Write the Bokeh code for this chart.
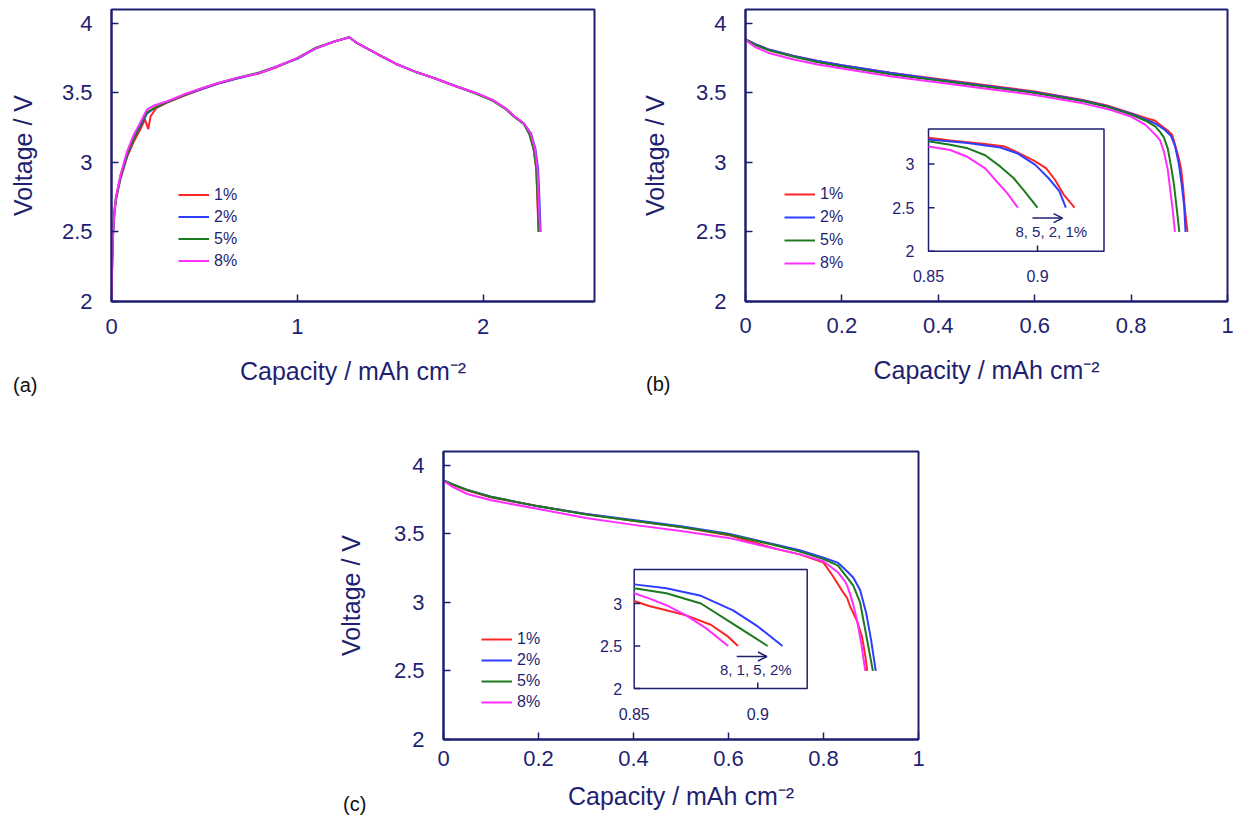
from bokeh.plotting import figure
from bokeh.layouts import column, row
from bokeh.models import (Range1d, FixedTicker, Legend, LegendItem, Arrow,
                          OpenHead, Spacer, Div)
from bokeh.core.properties import value
from bokeh.embed import file_html
from bokeh.resources import INLINE

# ---------------- data ----------------
names = ["1%", "2%", "5%", "8%"]
colors = ["#ff2424", "#2e3eff", "#1e7a1e", "#ff2eff"]

# panel (a): charge / discharge
xa_1 = [0, 0.004, 0.009, 0.016, 0.024, 0.048, 0.084, 0.12, 0.156, 0.18, 0.198, 0.21, 0.24, 0.30, 0.39, 0.48,
        0.57, 0.68, 0.79, 0.89, 1.0, 1.1, 1.2, 1.28, 1.32, 1.43, 1.53, 1.64, 1.75, 1.85, 1.96, 2.05, 2.12,
        2.17, 2.22, 2.25, 2.272, 2.286, 2.293, 2.298]
ya_1 = [2.0, 2.3, 2.5, 2.64, 2.73, 2.88, 3.04, 3.15, 3.24, 3.31, 3.24, 3.33, 3.39, 3.43, 3.48, 3.525,
        3.565, 3.605, 3.64, 3.685, 3.75, 3.82, 3.87, 3.90, 3.86, 3.78, 3.71, 3.65, 3.60, 3.55, 3.50, 3.45, 3.39,
        3.33, 3.28, 3.21, 3.10, 2.96, 2.72, 2.50]
xa_2 = [0, 0.004, 0.009, 0.016, 0.024, 0.048, 0.084, 0.12, 0.156, 0.19, 0.23, 0.30, 0.39, 0.48, 0.57, 0.68,
        0.79, 0.89, 1.0, 1.1, 1.2, 1.28, 1.32, 1.43, 1.53, 1.64, 1.75, 1.85, 1.96, 2.05, 2.12, 2.17, 2.22,
        2.258, 2.282, 2.296, 2.304, 2.31]
ya_2 = [2.0, 2.3, 2.5, 2.64, 2.74, 2.89, 3.05, 3.17, 3.26, 3.35, 3.39, 3.435, 3.485, 3.525, 3.565, 3.605,
        3.64, 3.69, 3.745, 3.82, 3.87, 3.90, 3.86, 3.78, 3.71, 3.65, 3.60, 3.55, 3.50, 3.45, 3.39, 3.33, 3.28,
        3.21, 3.10, 2.96, 2.72, 2.50]
xa_5 = [0, 0.004, 0.009, 0.016, 0.024, 0.048, 0.084, 0.12, 0.156, 0.19, 0.23, 0.30, 0.39, 0.48, 0.57, 0.68,
        0.79, 0.89, 1.0, 1.1, 1.2, 1.28, 1.32, 1.43, 1.53, 1.64, 1.75, 1.85, 1.96, 2.05, 2.12, 2.17, 2.22,
        2.25, 2.273, 2.287, 2.294, 2.30]
ya_5 = [2.0, 2.32, 2.52, 2.66, 2.75, 2.90, 3.06, 3.17, 3.27, 3.36, 3.39, 3.435, 3.485, 3.53, 3.57, 3.61,
        3.645, 3.69, 3.75, 3.825, 3.87, 3.90, 3.86, 3.78, 3.71, 3.65, 3.60, 3.55, 3.495, 3.445, 3.385, 3.325,
        3.275, 3.20, 3.09, 2.95, 2.72, 2.50]
xa_8 = [0, 0.004, 0.009, 0.016, 0.024, 0.048, 0.084, 0.12, 0.156, 0.19, 0.23, 0.30, 0.39, 0.48, 0.57, 0.68,
        0.79, 0.89, 1.0, 1.1, 1.2, 1.28, 1.32, 1.43, 1.53, 1.64, 1.75, 1.85, 1.96, 2.05, 2.12, 2.17, 2.22,
        2.256, 2.279, 2.293, 2.300, 2.307]
ya_8 = [2.0, 2.3, 2.5, 2.65, 2.75, 2.91, 3.08, 3.20, 3.29, 3.38, 3.41, 3.44, 3.49, 3.53, 3.57, 3.61,
        3.64, 3.69, 3.75, 3.82, 3.87, 3.90, 3.86, 3.78, 3.71, 3.65, 3.60, 3.55, 3.50, 3.45, 3.39, 3.33, 3.28,
        3.21, 3.10, 2.96, 2.72, 2.50]

# panel (b): discharge
xb_1 = [0, 0.02, 0.05, 0.1, 0.15, 0.2, 0.3, 0.4, 0.5, 0.6, 0.7, 0.75, 0.8, 0.83, 0.85, 0.86, 0.876, 0.885,
        0.891, 0.899, 0.904, 0.908, 0.912, 0.917]
yb_1 = [3.885, 3.85, 3.81, 3.765, 3.73, 3.70, 3.645, 3.60, 3.555, 3.51, 3.45, 3.41, 3.355, 3.32, 3.30, 3.27,
        3.23, 3.20, 3.13, 3.03, 2.95, 2.82, 2.65, 2.50]
xb_2 = [0, 0.02, 0.05, 0.1, 0.15, 0.2, 0.3, 0.4, 0.5, 0.6, 0.7, 0.75, 0.8, 0.83, 0.85, 0.868, 0.883, 0.891,
        0.899, 0.905, 0.910, 0.913]
yb_2 = [3.885, 3.85, 3.81, 3.765, 3.73, 3.70, 3.645, 3.595, 3.55, 3.505, 3.445, 3.405, 3.35, 3.31, 3.28, 3.24,
        3.19, 3.12, 2.99, 2.84, 2.69, 2.50]
xb_5 = [0, 0.02, 0.05, 0.1, 0.15, 0.2, 0.3, 0.4, 0.5, 0.6, 0.7, 0.75, 0.8, 0.83, 0.85, 0.86, 0.868, 0.876,
        0.883, 0.889, 0.894, 0.900]
yb_5 = [3.885, 3.845, 3.805, 3.76, 3.72, 3.69, 3.635, 3.59, 3.545, 3.50, 3.44, 3.40, 3.345, 3.30, 3.26, 3.22,
        3.18, 3.10, 2.97, 2.84, 2.69, 2.50]
xb_8 = [0, 0.02, 0.05, 0.1, 0.15, 0.2, 0.3, 0.4, 0.5, 0.6, 0.7, 0.75, 0.8, 0.83, 0.85, 0.86, 0.868, 0.876,
        0.882, 0.886, 0.891]
yb_8 = [3.88, 3.83, 3.785, 3.74, 3.705, 3.675, 3.62, 3.575, 3.53, 3.485, 3.425, 3.385, 3.33, 3.27, 3.20, 3.16,
        3.08, 2.95, 2.78, 2.67, 2.50]

# panel (c): discharge
xc_1 = [0, 0.02, 0.05, 0.1, 0.2, 0.3, 0.4, 0.5, 0.6, 0.7, 0.75, 0.8, 0.82, 0.84, 0.85, 0.856, 0.863, 0.871,
        0.881, 0.888, 0.892]
yc_1 = [3.89, 3.855, 3.815, 3.765, 3.70, 3.645, 3.595, 3.55, 3.49, 3.39, 3.35, 3.29, 3.19, 3.08, 3.03, 2.97,
        2.92, 2.86, 2.75, 2.61, 2.50]
xc_2 = [0, 0.02, 0.05, 0.1, 0.2, 0.3, 0.4, 0.5, 0.6, 0.7, 0.75, 0.8, 0.83, 0.85, 0.863, 0.877, 0.89, 0.90,
        0.91]
yc_2 = [3.89, 3.86, 3.82, 3.77, 3.70, 3.645, 3.60, 3.555, 3.50, 3.42, 3.38, 3.325, 3.29, 3.225, 3.18, 3.09,
        2.92, 2.73, 2.50]
xc_5 = [0, 0.02, 0.05, 0.1, 0.2, 0.3, 0.4, 0.5, 0.6, 0.7, 0.75, 0.8, 0.83, 0.85, 0.863, 0.877, 0.89, 0.897,
        0.904]
yc_5 = [3.89, 3.86, 3.82, 3.77, 3.70, 3.64, 3.595, 3.55, 3.495, 3.415, 3.37, 3.315, 3.27, 3.18, 3.12, 3.00,
        2.76, 2.63, 2.50]
xc_8 = [0, 0.02, 0.05, 0.1, 0.2, 0.3, 0.4, 0.5, 0.6, 0.7, 0.75, 0.8, 0.83, 0.845, 0.85, 0.856, 0.863, 0.871,
        0.879, 0.888]
yc_8 = [3.885, 3.84, 3.79, 3.745, 3.68, 3.615, 3.565, 3.52, 3.47, 3.39, 3.35, 3.30, 3.22, 3.155, 3.12, 3.06,
        2.98, 2.86, 2.71, 2.50]

# ticks
xticks_a = [0, 1, 2]
xlabels_a = ["0", "1", "2"]
xticks_bc = [0, 0.2, 0.4, 0.6, 0.8, 1]
xlabels_bc = ["0", "0.2", "0.4", "0.6", "0.8", "1"]
yticks = [2, 2.5, 3, 3.5, 4]
ylabels = ["2", "2.5", "3", "3.5", "4"]
inset_xticks = [0.85, 0.9]
inset_xlabels = ["0.85", "0.9"]
inset_yticks = [2, 2.5, 3]
inset_ylabels = ["2", "2.5", "3"]
inset_note_b = "8, 5, 2, 1%"
inset_note_c = "8, 1, 5, 2%"
panel_tags = ["(a)", "(b)", "(c)"]

x_title = "Capacity / mAh cm\u207b\u00b2"
y_title = "Voltage / V"

NAVY = "#1f1f72"
FONT = "Liberation Sans"


def make_fig(width, height, left, right, top, bottom, xr, yr, xticks, xlabels,
             x_ls, x_as, y_ls, y_as):
    p = figure(width=width, height=height, x_range=Range1d(*xr), y_range=Range1d(*yr),
               output_backend="svg", toolbar_location=None, tools="",
               min_border_left=left, min_border_right=right,
               min_border_top=top, min_border_bottom=bottom)
    p.grid.visible = False
    p.outline_line_color = NAVY
    p.outline_line_width = 2
    p.outline_line_alpha = 1.0
    p.xaxis.ticker = FixedTicker(ticks=xticks)
    p.xaxis.major_label_overrides = dict(zip(xticks, xlabels))
    p.yaxis.ticker = FixedTicker(ticks=yticks)
    p.yaxis.major_label_overrides = dict(zip(yticks, ylabels))
    for ax in (p.xaxis[0], p.yaxis[0]):
        ax.axis_line_color = NAVY
        ax.axis_line_width = 2
        ax.major_tick_in = 7
        ax.major_tick_out = 0
        ax.major_tick_line_color = NAVY
        ax.major_tick_line_width = 1.5
        ax.minor_tick_line_color = None
        ax.major_label_text_font = FONT
        ax.major_label_text_font_size = "22px"
        ax.major_label_text_color = NAVY
        ax.axis_label_text_font = FONT
        ax.axis_label_text_font_size = "25px"
        ax.axis_label_text_font_style = "normal"
        ax.axis_label_text_color = NAVY
    p.xaxis.major_label_standoff = x_ls
    p.xaxis.axis_label_standoff = x_as
    p.yaxis.major_label_standoff = y_ls
    p.yaxis.axis_label_standoff = y_as
    p.xaxis.axis_label = x_title
    p.yaxis.axis_label = y_title
    return p


def add_series(p, xs, ys, legend_loc, spacing, gh):
    items = []
    for x, y, c, n in zip(xs, ys, colors, names):
        r = p.line(x, y, line_color=c, line_width=2)
        items.append(LegendItem(label=n, renderers=[r]))
    leg = Legend(items=items, location=legend_loc, glyph_width=31, glyph_height=gh,
                 label_height=gh, spacing=spacing, padding=0, margin=0,
                 border_line_color=None, background_fill_alpha=0,
                 label_text_font=FONT, label_text_font_size="16px",
                 label_text_color=NAVY, label_standoff=5)
    p.add_layout(leg)


def add_inset(p, fw, fh, box, ixr, iyr, xs, ys, note, note_xy, arrow_xy, ylab_off):
    bl, bb, bw, bh = box
    sx = (ixr[1] - ixr[0]) / bw
    sy = (iyr[1] - iyr[0]) / bh
    x0 = ixr[0] - bl * sx
    y0 = iyr[0] - bb * sy
    p.extra_x_ranges = {"ix": Range1d(x0, x0 + fw * sx)}
    p.extra_y_ranges = {"iy": Range1d(y0, y0 + fh * sy)}
    kw = dict(x_range_name="ix", y_range_name="iy")
    p.quad(left=ixr[0], right=ixr[1], bottom=iyr[0], top=iyr[1], fill_color="white",
           line_color=NAVY, line_width=1.5, **kw)
    for x, y, c in zip(xs, ys, colors):
        xi = [a for a in x if a >= ixr[0]]
        yi = [b for a, b in zip(x, y) if a >= ixr[0]]
        p.line(xi, yi, line_color=c, line_width=2, **kw)
    tl = 6
    p.segment(x0=[ixr[0]] * len(inset_yticks), y0=inset_yticks,
              x1=[ixr[0] + tl * sx] * len(inset_yticks), y1=inset_yticks,
              line_color=NAVY, line_width=1.5, **kw)
    p.segment(x0=inset_xticks[1:], y0=[iyr[0]], x1=inset_xticks[1:], y1=[iyr[0] + tl * sy],
              line_color=NAVY, line_width=1.5, **kw)
    p.text(x=[ixr[0]] * len(inset_yticks), y=inset_yticks, text=inset_ylabels,
           x_offset=ylab_off, text_align="right", text_baseline="middle",
           text_font=value(FONT), text_font_size="16px", text_color=NAVY, **kw)
    p.text(x=inset_xticks, y=[iyr[0]] * len(inset_xticks), text=inset_xlabels,
           y_offset=25, text_align="center", text_baseline="middle",
           text_font=value(FONT), text_font_size="16px", text_color=NAVY, **kw)
    p.add_layout(Arrow(x_start=arrow_xy[0], x_end=arrow_xy[1], y_start=arrow_xy[2],
                       y_end=arrow_xy[2], line_color=NAVY, line_width=1.5,
                       end=OpenHead(size=9, line_color=NAVY, line_width=1.5), **kw))
    p.text(x=[note_xy[0]], y=[note_xy[1]], text=[note], text_align="center",
           text_baseline="middle", text_font=value(FONT), text_font_size="15px",
           text_color=NAVY, **kw)


def tag_div(txt, left, top):
    return Div(text=f'<span style="font-family:\'{FONT}\';font-size:20px;color:#111111;'
                    f'line-height:22px;white-space:nowrap">{txt}</span>',
               width=30, height=22, margin=0,
               styles={"position": "absolute", "left": f"{left}px", "top": f"{top}px",
                       "margin": "0", "padding": "0"})


# (a)
pa = make_fig(635, 400, 111, 41, 8, 99, (0, 2.6), (2, 4.1), xticks_a, xlabels_a, 17, 20, 19, 22)
add_series(pa, [xa_1, xa_2, xa_5, xa_8], [ya_1, ya_2, ya_5, ya_8], (67, 30), 1, 21)

# (b)
pb = make_fig(599, 400, 110, 7, 9, 98, (0, 1), (2, 4.1), xticks_bc, xlabels_bc, 16, 20, 19, 24)
xsb = [xb_1, xb_2, xb_5, xb_8]
ysb = [yb_1, yb_2, yb_5, yb_8]
add_series(pb, xsb, ysb, (39, 27), 1, 22)
add_inset(pb, 482, 293, (183, 50.3, 175.5, 122.7), (0.85, 0.9305), (2, 3.4), xsb, ysb,
          inset_note_b, (0.9063, 2.228), (0.8977, 0.9115, 2.381), -14)

# (c)
pc = make_fig(600, 416, 113, 12, 51, 77, (0, 1), (2, 4.1), xticks_bc, xlabels_bc, 11, 13, 19, 26)
xsc = [xc_1, xc_2, xc_5, xc_8]
ysc = [yc_1, yc_2, yc_5, yc_8]
add_series(pc, xsc, ysc, (38, 27), 1, 20)
add_inset(pc, 475, 288, (190.7, 51, 173, 119), (0.85, 0.92), (2, 3.4), xsc, ysc,
          inset_note_c, (0.8992, 2.22), (0.8915, 0.9037, 2.376), -12)

tags = [tag_div(panel_tags[0], 13, 374), tag_div(panel_tags[1], 646, 373),
        tag_div(panel_tags[2], 343, 793)]

layout = column(row(pa, pb), row(Spacer(width=330, height=416), pc), *tags)

open("out.html", "w").write(file_html(layout, INLINE))
